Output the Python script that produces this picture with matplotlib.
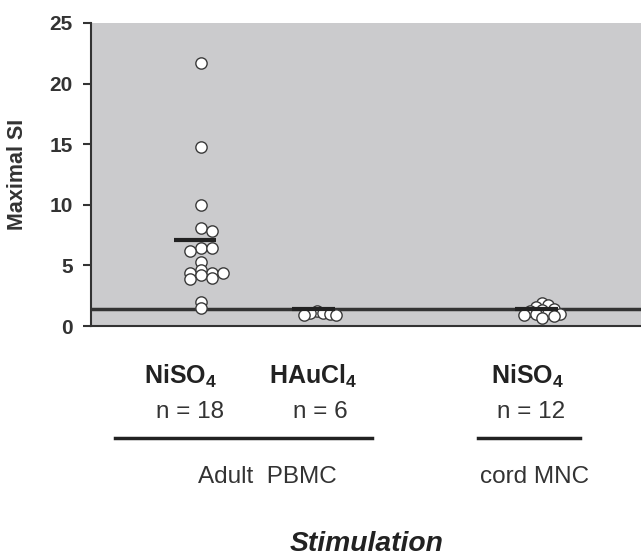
import matplotlib
matplotlib.use("Agg")
import matplotlib.pyplot as plt
import numpy as np

plt.rcParams["font.family"] = ["Liberation Sans", "DejaVu Sans"]
plt.rcParams["mathtext.fontset"] = "custom"
plt.rcParams["mathtext.rm"] = "Liberation Sans"
plt.rcParams["mathtext.bf"] = "Liberation Sans:bold"

# values
adult_niso4 = [21.7, 14.8, 10.0, 8.1, 7.8, 6.4, 6.4, 6.2, 5.3, 4.6,
               4.4, 4.4, 4.4, 4.2, 4.0, 3.9, 2.0, 1.5]
adult_haucl4 = [1.2, 1.1, 1.1, 1.0, 0.9, 0.9]
cord_niso4 = [1.9, 1.7, 1.6, 1.4, 1.3, 1.2, 1.1, 1.0, 1.0, 0.9, 0.8, 0.7]
group_means = [7.1, 1.4, 1.4]
group_x = [1.0, 2.0, 3.87]
compounds = ["NiSO$_\\mathbf{4}$", "HAuCl$_\\mathbf{4}$", "NiSO$_\\mathbf{4}$"]
n_labels = ["n = 18", "n = 6", "n = 12"]
cell_labels = ["Adult  PBMC", "cord MNC"]
cutoff = 1.4

W, H = 641, 556
fig = plt.figure(figsize=(W / 100, H / 100), dpi=100)
ax = fig.add_axes([91 / W, 1 - 326 / H, 1 - 91 / W, 303 / H])
ax.set_facecolor("#cbcbcd")
ax.set_xlim(0.076, 4.70)
ax.set_ylim(0, 25)

px_x = 119.0   # pixels per x unit
px_y = 303 / 25.0


def swarm(vals, step, gap):
    # greedy column scatter, offsets in x units
    placed = []
    offs = []
    slots = [0]
    for i in range(1, 20):
        slots += [i, -i]
    for v in vals:
        for k in slots:
            hit = any(o == k and abs(v - w) * px_y < gap for o, w in placed)
            if not hit:
                placed.append((k, v))
                offs.append(k * step / px_x)
                break
    return np.array(offs)


ax.axhline(cutoff, color="#333333", lw=2.5, zorder=2)

spacing = [(11.0, 4.8), (6.5, 8.0), (6.0, 7.0)]
for xc, vals, m, (st, gp) in zip(group_x, [adult_niso4, adult_haucl4, cord_niso4],
                                 group_means, spacing):
    offs = swarm(vals, st, gp)
    offs = offs - (offs.max() + offs.min()) / 2 if len(vals) < 15 else offs
    ax.scatter(xc + offs, vals, s=66, facecolor="white", edgecolor="#3a3a3a",
               linewidths=1.0, zorder=3)
    ax.hlines(m, xc - 0.23, xc + 0.13, color="#222222", lw=3, zorder=4)

for s in ["top", "right"]:
    ax.spines[s].set_visible(False)
ax.spines["left"].set_linewidth(1.5)
ax.spines["bottom"].set_linewidth(1.5)
ax.spines["left"].set_color("#333333")
ax.spines["bottom"].set_color("#333333")
ax.set_xticks([])
ax.set_yticks(range(0, 26, 5))
ax.tick_params(axis="y", length=6, width=1.5, color="#333333", labelsize=15,
               labelcolor="#333333", pad=7)
for t in ax.get_yticklabels():
    t.set_fontweight("bold")
ax.set_ylabel("Maximal SI", fontsize=15.5, fontweight="bold", color="#333333")
ax.yaxis.set_label_coords((28 - 91) / (W - 91), 0.5)


def P(x, y):
    return x / W, 1 - y / H


for xp, c in zip([180, 313, 527], compounds):
    fig.text(*P(xp, 376), c, ha="center", va="center", fontsize=18,
             fontweight="bold", color="#222222")
for xp, n in zip([190, 320, 531], n_labels):
    fig.text(*P(xp, 412), n, ha="center", va="center", fontsize=17.5, color="#333333")

for x0, x1 in [(115, 372), (478, 580)]:
    fig.add_artist(plt.Line2D([x0 / W, x1 / W], [1 - 438 / H] * 2, color="#222222", lw=2.5))

for xp, c in zip([267, 535], cell_labels):
    fig.text(*P(xp, 477), c, ha="center", va="center", fontsize=17.5, color="#333333")

fig.text(*P(367, 544), "Stimulation", ha="center", va="center", fontsize=20.3,
         fontweight="bold", fontstyle="italic", color="#222222")

fig.savefig("out.png", dpi=100)
